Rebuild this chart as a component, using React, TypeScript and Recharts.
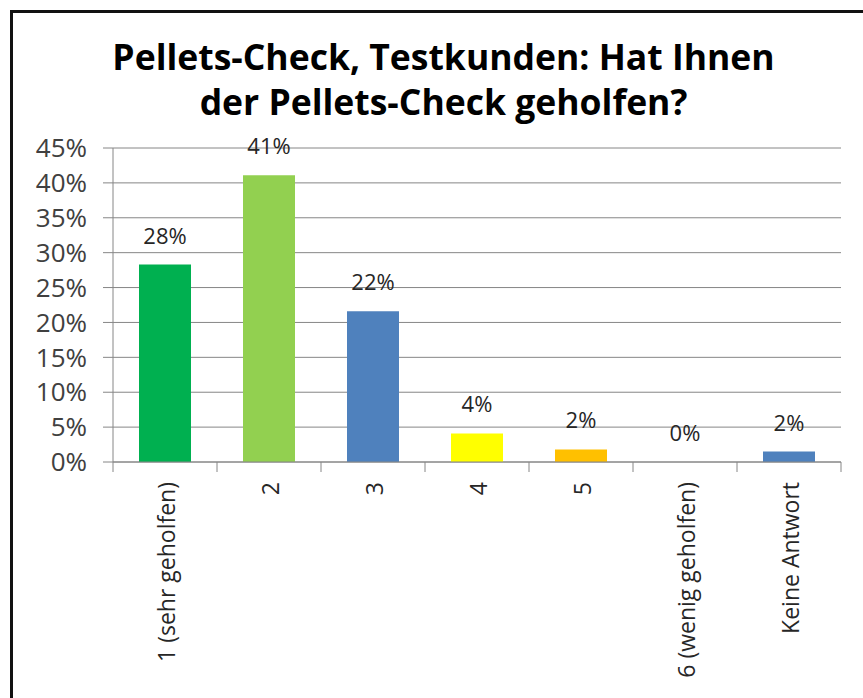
import React from 'react';
import { ComposedChart, Bar, Line, XAxis, YAxis, CartesianGrid, Cell, LabelList } from 'recharts';

const categories = ['1 (sehr geholfen)', '2', '3', '4', '5', '6 (wenig geholfen)', 'Keine Antwort'];
const shares = [28.3, 41.1, 21.6, 4.1, 1.8, 0, 1.5];
const barColors = ['#00B050', '#92D050', '#4F81BD', '#FFFF00', '#FFC000', '#FFC000', '#4F81BD'];
const yTicks = [0, 5, 10, 15, 20, 25, 30, 35, 40, 45];
const titleLines = ['Pellets-Check, Testkunden: Hat Ihnen', 'der Pellets-Check geholfen?'];

const data = categories.map((c, i) => ({ name: c, value: shares[i] }));

const FONT = '"Open Sans", sans-serif';
const AXIS_GRAY = '#868686';

function CategoryTick(props: any) {
  const { x, y, payload, index, visibleTicksCount } = props;
  const half = payload.offset || 0;
  const lineTop = y - 20;
  return (
    <g>
      <line x1={x - half} x2={x - half} y1={lineTop} y2={lineTop + 10} stroke={AXIS_GRAY} strokeWidth={1} />
      {index === visibleTicksCount - 1 && (
        <line x1={x + half} x2={x + half} y1={lineTop} y2={lineTop + 10} stroke={AXIS_GRAY} strokeWidth={1} />
      )}
      <text
        x={x}
        y={y}
        transform={`rotate(-90, ${x}, ${y})`}
        textAnchor="end"
        dy="0.45em"
        fontFamily={FONT}
        fontSize={23}
        fill="#262626"
      >
        {payload.value}
      </text>
    </g>
  );
}

export default function App() {
  return (
    <div style={{ position: 'absolute', left: 0, top: 0, width: 863, height: 698, background: '#fff', overflow: 'hidden' }}>
      <div
        style={{
          position: 'absolute',
          left: 10,
          top: 10,
          width: 900,
          height: 750,
          borderTop: '3px solid #111',
          borderLeft: '3px solid #111',
          boxSizing: 'border-box',
        }}
      />
      <div
        style={{
          position: 'absolute',
          left: 12,
          top: 34,
          width: 863,
          textAlign: 'center',
          fontFamily: FONT,
          fontWeight: 700,
          fontSize: 35.5,
          lineHeight: '45px',
          color: '#000',
        }}
      >
        {titleLines.map((t) => (
          <div key={t}>{t}</div>
        ))}
      </div>
      <div style={{ position: 'absolute', left: 0, top: 0 }}>
        <ComposedChart
          width={863}
          height={698}
          data={data}
          margin={{ top: 148, right: 22, bottom: 0, left: 0 }}
          barCategoryGap="25%"
        >
          <CartesianGrid vertical={false} stroke={AXIS_GRAY} strokeWidth={1} />
          <XAxis
            dataKey="name"
            height={236}
            interval={0}
            axisLine={{ stroke: AXIS_GRAY }}
            tickLine={false}
            tickSize={10}
            tickMargin={10}
            tick={<CategoryTick />}
          />
          <YAxis
            width={113}
            domain={[0, 45]}
            ticks={yTicks}
            interval={0}
            axisLine={{ stroke: AXIS_GRAY }}
            tickLine={{ stroke: AXIS_GRAY }}
            tickSize={10}
            tickMargin={16}
            tickFormatter={(v: number) => `${v}%`}
            tick={{ fontFamily: FONT, fontSize: 26, fill: '#404040' }}
          />
          <Bar dataKey="value" isAnimationActive={false}>
            {data.map((d, i) => (
              <Cell key={d.name} fill={barColors[i]} />
            ))}
          </Bar>
          <Line
            dataKey="value"
            stroke="none"
            dot={false}
            activeDot={false}
            legendType="none"
            isAnimationActive={false}
          >
            <LabelList
              dataKey="value"
              position="top"
              offset={21}
              formatter={(v: number) => `${Math.round(v)}%`}
              style={{ fontFamily: FONT, fontSize: 22, fill: '#262626' }}
            />
          </Line>
        </ComposedChart>
      </div>
    </div>
  );
}
